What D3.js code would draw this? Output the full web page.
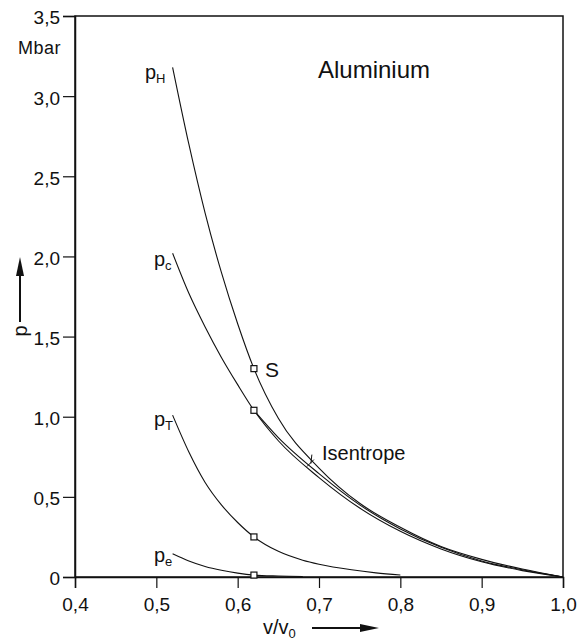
<!DOCTYPE html>
<html>
<head>
<meta charset="utf-8">
<script src="https://cdn.jsdelivr.net/npm/d3@7"></script>
<style>
  body { margin: 0; background: #fff; }
  text { font-family: "Liberation Sans Narrow", "Liberation Sans", sans-serif; fill: #111; }
</style>
</head>
<body>
<svg id="chart" width="586" height="641"></svg>
<script>
// Axis ticks
const volumeTicks = [0.4, 0.5, 0.6, 0.7, 0.8, 0.9, 1.0];
const pressureTicks = [0, 0.5, 1.0, 1.5, 2.0, 2.5, 3.0, 3.5];

// Hugoniot pressure p_H (Mbar) vs relative volume v/v0
const hugoniotV = [0.52, 0.54, 0.56, 0.58, 0.60, 0.62, 0.65, 0.70, 0.75, 0.80, 0.85, 0.90, 0.95, 1.0];
const hugoniotP = [3.18, 2.70, 2.27, 1.90, 1.58, 1.30, 0.99, 0.68, 0.46, 0.31, 0.19, 0.11, 0.05, 0];

// Cold pressure p_C
const coldV = [0.52, 0.54, 0.56, 0.58, 0.60, 0.62, 0.65, 0.70, 0.75, 0.80, 0.85, 0.90, 0.95, 1.0];
const coldP = [2.02, 1.77, 1.56, 1.37, 1.20, 1.04, 0.85, 0.62, 0.43, 0.285, 0.175, 0.095, 0.04, 0];

// Isentrope through the state at v/v0 = 0.62
const isentropeV = [0.62, 0.65, 0.70, 0.75, 0.80, 0.85, 0.90, 0.95, 1.0];
const isentropeP = [1.04, 0.87, 0.645, 0.45, 0.30, 0.185, 0.10, 0.045, 0];

// Thermal lattice pressure p_T
const thermalV = [0.52, 0.54, 0.56, 0.58, 0.60, 0.62, 0.65, 0.68, 0.70, 0.74, 0.77, 0.80];
const thermalP = [1.01, 0.78, 0.59, 0.45, 0.34, 0.25, 0.16, 0.105, 0.08, 0.045, 0.026, 0.012];

// Electronic pressure p_e
const electronV = [0.52, 0.54, 0.56, 0.58, 0.60, 0.62, 0.65, 0.68];
const electronP = [0.145, 0.10, 0.066, 0.042, 0.024, 0.012, 0.006, 0.003];

// Marked state S at v/v0 = 0.62
const stateV = 0.62;
const isentropeMarkV = 0.69;

const svg = d3.select("#chart");
const x = d3.scaleLinear().domain([0.4, 1.0]).range([75, 563]);
const y = d3.scaleLinear().domain([0, 3.5]).range([577, 16]);
const fmt = d => d === 0 ? "0" : d3.format(".1f")(d).replace(".", ",");

// Frame
svg.append("rect")
  .attr("x", x(0.4)).attr("y", y(3.5))
  .attr("width", x(1.0) - x(0.4)).attr("height", y(0) - y(3.5))
  .attr("fill", "none").attr("stroke", "#111").attr("stroke-width", 1.5);

// Axes
const xAxis = svg.append("g").attr("transform", `translate(0,${y(0)})`)
  .call(d3.axisBottom(x).tickValues(volumeTicks).tickSize(11).tickPadding(6)
    .tickFormat(d => d3.format(".1f")(d).replace(".", ",")));
const yAxis = svg.append("g").attr("transform", `translate(${x(0.4)},0)`)
  .call(d3.axisLeft(y).tickValues(pressureTicks).tickSize(12).tickPadding(3).tickFormat(fmt));
[xAxis, yAxis].forEach(g => {
  g.select(".domain").attr("stroke", "#111").attr("stroke-width", 1.5);
  g.selectAll(".tick line").attr("stroke", "#111").attr("stroke-width", 1.2);
  g.selectAll(".tick text").attr("fill", "#111")
    .style("font-family", '"Liberation Sans Narrow", sans-serif').style("font-size", "19px");
});
yAxis.selectAll(".tick text").attr("dy", "0.42em");
xAxis.selectAll(".tick text").attr("dy", "0.9em");

// Unit label
svg.append("text").attr("x", 61).attr("y", 54).attr("text-anchor", "end")
  .style("font-size", "18px").style("letter-spacing", "0.5px").text("Mbar");

// Curves
const line = d3.line().x(d => x(d[0])).y(d => y(d[1])).curve(d3.curveMonotoneX);
const series = [
  [hugoniotV, hugoniotP],
  [coldV, coldP],
  [isentropeV, isentropeP],
  [thermalV, thermalP],
  [electronV, electronP]
];
series.forEach(([vs, ps]) => {
  svg.append("path")
    .datum(vs.map((v, i) => [v, ps[i]]))
    .attr("d", line)
    .attr("fill", "none").attr("stroke", "#111").attr("stroke-width", 1.1);
});

// State markers at v/v0 = 0.62
const markerP = [hugoniotP, coldP, thermalP, electronP].map((ps, k) => {
  const vs = [hugoniotV, coldV, thermalV, electronV][k];
  return ps[vs.indexOf(stateV)];
});
svg.selectAll("rect.marker").data(markerP).join("rect")
  .attr("class", "marker")
  .attr("x", d => x(stateV) - 3).attr("y", d => y(d) - 3)
  .attr("width", 6).attr("height", 6)
  .attr("fill", "#fff").attr("stroke", "#111").attr("stroke-width", 1.2);

// Curve labels (p with subscripts)
const curveLabels = [
  { v: 0.486, p: 3.11, sub: "H" },
  { v: 0.497, p: 1.94, sub: "c" },
  { v: 0.497, p: 0.94, sub: "T" },
  { v: 0.497, p: 0.094, sub: "e" }
];
curveLabels.forEach(l => {
  const t = svg.append("text").attr("x", x(l.v)).attr("y", y(l.p)).style("font-size", "20px");
  t.append("tspan").text("p");
  t.append("tspan").attr("dy", 4).style("font-size", "13px").text(l.sub);
});

// S label
svg.append("text").attr("x", x(stateV) + 11).attr("y", y(1.30) + 8)
  .style("font-size", "21px").text("S");

// Isentrope mark and label
const mx = x(isentropeMarkV), my = y(0.72);
svg.append("path")
  .attr("d", `M${mx - 4},${my + 5} L${mx + 3},${my - 2} M${mx},${my + 2} L${mx + 1},${my - 7}`)
  .attr("fill", "none").attr("stroke", "#111").attr("stroke-width", 1);
svg.append("text").attr("x", 322).attr("y", y(0.72) - 2)
  .style("font-size", "20px").text("Isentrope");

// Title
svg.append("text").attr("x", 318).attr("y", 78).style("font-size", "24px").text("Aluminium");

// Axis titles with arrows
svg.append("text").attr("transform", "translate(27,331) rotate(-90)")
  .attr("text-anchor", "middle").style("font-size", "20px").text("p");
svg.append("line").attr("x1", 20).attr("y1", 322).attr("x2", 20).attr("y2", 272)
  .attr("stroke", "#111").attr("stroke-width", 2);
svg.append("path").attr("d", "M20,257 L16,276 L24,276 Z").attr("fill", "#111");

const xl = svg.append("text").attr("x", 263).attr("y", 634).style("font-size", "20px");
xl.append("tspan").text("v/v");
xl.append("tspan").attr("dy", 4).style("font-size", "13px").text("0");
svg.append("line").attr("x1", 312).attr("y1", 628).attr("x2", 362).attr("y2", 628)
  .attr("stroke", "#111").attr("stroke-width", 2);
svg.append("path").attr("d", "M379,628 L360,624 L360,632 Z").attr("fill", "#111");
</script>
</body>
</html>
